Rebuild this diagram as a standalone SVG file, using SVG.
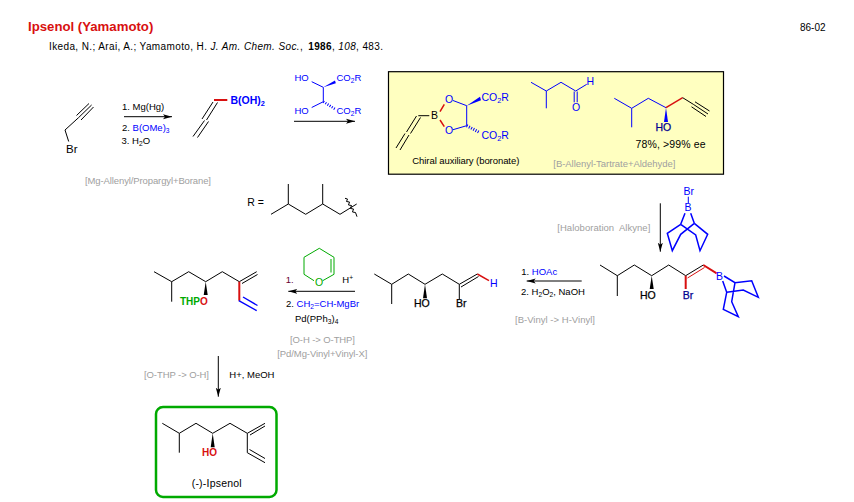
<svg xmlns="http://www.w3.org/2000/svg" width="854" height="502" viewBox="0 0 854 502">
<style>
text{font-family:"Liberation Sans",Arial,sans-serif;font-size:9.5px;fill:#000}
.g{fill:#a0a0a0}.u{fill:#0000ff}.r{fill:#d81010}.v{fill:#00aa00}
.l{font-size:11.5px}.b{font-weight:bold}.i{font-style:italic}
.m{font-size:10.5px;stroke:#000;stroke-width:.25}
.s{font-size:70%}
path{fill:none;stroke:#000;stroke-width:1}
.pu{stroke:#0000ff}.pr{stroke:#d81010;stroke-width:2}.pg{stroke:#00aa00}.pb{stroke:#0000ff;stroke-width:1.5}
.w{fill:#000;stroke:none}.wu{fill:#0000ff;stroke:none}
.a{stroke:#000;stroke-width:1;marker-end:url(#ah)}
</style>
<defs>
<marker id="ah" markerUnits="userSpaceOnUse" markerWidth="10" markerHeight="6" refX="9" refY="3" orient="auto"><path d="M0 .5L9 3L0 5.5L2 3Z" style="fill:#000;stroke:none"/></marker>
</defs>
<rect width="854" height="502" fill="#fff"/>

<g id="title">
<text x="28" y="31" class="r b" style="font-size:13.2px">Ipsenol (Yamamoto)</text>
<text x="800" y="31" style="font-size:10px">86-02</text>
<text x="49" y="49.5" style="font-size:10px" textLength="334">Ikeda, N.; Arai, A.; Yamamoto, H. <tspan class="i">J. Am. Chem. Soc.</tspan>, <tspan class="b" dx="2">1986</tspan>, <tspan class="i">108</tspan>, 483.</text>
</g>

<g id="connectors">
<path class="a" d="M124 116.7H172"/>
<path class="a" d="M294 121.3H355"/>
<path class="a" d="M537.3 117.3H584"/>
<path class="a" d="M660.3 203.3V251.7"/>
<path class="a" d="M581.7 281H526.7"/>
<path class="a" d="M355 291.3H288.3"/>
<path class="a" d="M218.3 356V396.7"/>
</g>

<g id="propargyl-bromide">
<path d="M68.7 141.500L65 130L78.600 117.600M78.600 117.600L91.600 105M76.500 115.500L89 103.500M81 120L93.500 107"/>
<text x="66" y="152.700" class="l">Br</text>
</g>
<g id="step1-reagents">
<text x="122" y="110">1. Mg(Hg)</text>
<text x="122" y="131">2. <tspan class="u">B(OMe)<tspan class="s" dy="2">3</tspan></tspan></text>
<text x="121.500" y="144">3. H<tspan class="s" dy="2">2</tspan><tspan dy="-2">O</tspan></text>
<text x="85" y="184" class="g" textLength="126">[Mg-Allenyl/Propargyl+Borane]</text>
</g>
<g id="allenyl-boronic-acid">
<path class="pr" d="M214 100H227.300"/>
<path d="M213 102L202 119M217.500 102.500L206.500 120M204.500 120.500L193 136.500M208.500 121.500L197.500 137.500"/>
<text x="230.500" y="104" class="u b" style="font-size:10.500px">B(OH)<tspan class="s" dy="2">2</tspan></text>
</g>
<g id="tartrate">
<path class="pu" d="M311.700 81.700L323.300 87.300V101.700L311.700 107.500"/>
<path class="wu" d="M323.300 87.300L335 80.500L335.800 83.200Z"/>
<path class="pu" stroke-dasharray="1 1.500" style="stroke-width:2.500" d="M323.300 101.700L335 109"/>
<text x="294.500" y="80.500" class="u">HO</text>
<text x="294.500" y="113.500" class="u">HO</text>
<text x="336.500" y="81" class="u">CO<tspan class="s" dy="2">2</tspan><tspan dy="-2">R</tspan></text>
<text x="336.500" y="113.500" class="u">CO<tspan class="s" dy="2">2</tspan><tspan dy="-2">R</tspan></text>
</g>
<g id="r-group">
<text x="247.300" y="205.700" style="font-size:10.500px">R =</text>
<path d="M271 214.300L288.300 204V184M288.300 204L305.700 214.300L322.700 204V184M322.700 204L340 214.300L356.700 204"/>
<path d="M345 198.300L347.500 199L346.500 201.500L349.500 202L348.500 205L351.500 205.500L350.500 208.500L353.500 209L352.500 212L355.500 212.500L357 216.700"/>
</g>

<g id="yellow-box">
<rect x="388.500" y="71.700" width="335" height="102.500" fill="#ffffc0" stroke="#000" stroke-width="1.200"/>
<path d="M418.300 115.700H429.300M416.500 116L406.500 132M420.500 117.500L410.500 133.500M405 133.500L396 148M409 135L400 150"/>
<text x="431" y="119" style="font-size:10.500px">B</text>
<path class="pr" style="stroke-width:1.500" d="M440 111.700L444.300 104.300M440 120L444.300 126.700"/>
<text x="445" y="102.700" class="u" style="font-size:10.500px">O</text>
<text x="445" y="134.300" class="u" style="font-size:10.500px">O</text>
<path class="pu" d="M453 100.500L466.700 105.700V125.700L453 129.700"/>
<path class="wu" d="M466.700 105.700L480 96.800L481 100.200Z"/>
<path class="pu" stroke-dasharray="1 1.500" style="stroke-width:3" d="M466.700 125.700L480 132.700"/>
<text x="481.500" y="100.700" class="u" style="font-size:10.500px">CO<tspan class="s" dy="2">2</tspan><tspan dy="-2">R</tspan></text>
<text x="481.500" y="139" class="u" style="font-size:10.500px">CO<tspan class="s" dy="2">2</tspan><tspan dy="-2">R</tspan></text>
<text x="412.300" y="164.300" textLength="107">Chiral auxiliary (boronate)</text>
<path class="pu" d="M531 82.300L546.300 91V108.300M546.300 91L561 82.300L575.700 91L586.700 84.300M574.200 91.500V102.300M577.200 91.500V102.300"/>
<text x="572" y="111" class="u" style="font-size:10.500px">O</text>
<text x="586.500" y="85" class="u" style="font-size:10.500px">H</text>
<path class="pu" d="M614.300 98.300L631.700 108.300V127.300M631.700 108.300L648.300 98.300L666 107.700"/>
<path class="wu" d="M666 107.700L668 122H664Z"/>
<path class="pr" style="stroke-width:1.500" d="M666 107.700L682.700 97.700"/>
<path d="M682.700 97.700L693.300 104.300M693.300 104.300L708 114M695 101.800L709.500 111M691.500 106.800L706 116.500"/>
<text x="655.500" y="131" class="m" style="fill:#000090;stroke:#000090">HO</text>
<text x="635.500" y="148.300" style="font-size:10.500px" textLength="70">78%, &gt;99% ee</text>
<text x="553.300" y="166.700" class="g" textLength="122">[B-Allenyl-Tartrate+Aldehyde]</text>
</g>

<g id="haloboration-reagent">
<text x="557.300" y="231" class="g" textLength="93" xml:space="preserve">[Haloboration  Alkyne]</text>
<text x="683.500" y="195" class="u" style="font-size:10.500px">Br</text>
<text x="684.500" y="211" class="u" style="font-size:10.500px">B</text>
<path class="pu" d="M688.300 196.700V203.300"/>
<path class="pb" d="M685 213.300L680.700 224.300M690.700 213.300L694.300 223.300M680.700 224.300L667.300 233.300L672.300 250.700L680.700 234.300L694.300 223.300M680.700 224.300L695.700 235L700 250.700L707.700 234.300L694.300 223.300"/>
</g>

<g id="vinyl-borane">
<path d="M600 265L617.300 275.700V296M617.300 275.700L634.300 265L651.700 275.700L668.700 265L685.700 275.700L703.300 265"/>
<path class="w" d="M651.700 275.700L653.700 289H649.700Z"/>
<path class="pr" style="stroke-width:1" d="M687.500 278L704.500 267.500"/>
<path class="pr" d="M685.700 275.700V289M703.300 265L716.700 273.300"/>
<text x="640" y="299" class="m">HO</text>
<text x="682.700" y="299" class="m" style="fill:#000090;stroke:#000090">Br</text>
<text x="716" y="279.500" class="u" style="font-size:10.500px">B</text>
<path class="pb" d="M722.700 281L726.700 292.300L723.300 309.300L738.300 316.700L731.700 301.700L735 282.700M724 276L735 282.700L751.700 280.700L758.300 297.300L743.300 290L726.700 292.300"/>
</g>
<g id="step3-reagents">
<text x="521.300" y="275">1. <tspan class="u">HOAc</tspan></text>
<text x="521" y="295">2. H<tspan class="s" dy="2">2</tspan><tspan dy="-2">O</tspan><tspan class="s" dy="2">2</tspan><tspan dy="-2">, NaOH</tspan></text>
<text x="515" y="322.700" class="g" textLength="80">[B-Vinyl -&gt; H-Vinyl]</text>
</g>

<g id="vinyl-bromide">
<path d="M374.300 274L391.700 284.300V304M391.700 284.300L408.300 274L425 284.300L442.300 274L459.300 284.300L477.300 274M459.300 284.300V299M461 287L478.500 276.500"/>
<path class="w" d="M425 284.300L427 298.300H423Z"/>
<path class="pr" style="stroke-width:1.500" d="M477.300 274L489 280.700"/>
<text x="414" y="306.700" class="m">HO</text>
<text x="456" y="306.700" class="m">Br</text>
<text x="490" y="286.700" class="u" style="font-size:10.500px">H</text>
</g>

<g id="step4-reagents">
<path class="pg" d="M319.300 248.300L334 257.300V274.300L322.700 280.700M314 280.700L304 274.300V257.300L319.300 248.300M331 259V272.500"/>
<text x="315" y="286" class="v" style="font-size:10.500px">O</text>
<text x="285.700" y="283.300" style="fill:#660033">1.</text>
<text x="342.300" y="283.300">H<tspan class="s" dy="-3">+</tspan></text>
<text x="286" y="306.700">2. <tspan class="u">CH<tspan class="s" dy="2">2</tspan><tspan dy="-2">=CH-MgBr</tspan></tspan></text>
<text x="295" y="322">Pd(PPh<tspan class="s" dy="2">3</tspan><tspan dy="-2">)</tspan><tspan class="s" dy="2">4</tspan></text>
<text x="290" y="343.300" class="g" textLength="65">[O-H -&gt; O-THP]</text>
<text x="277.300" y="356.700" class="g" textLength="90">[Pd/Mg-Vinyl+Vinyl-X]</text>
</g>

<g id="thp-ether">
<path d="M154 271.700L171.700 281.700V301.700M171.700 281.700L188.700 271.700L205.700 281.700L222.300 271.700L239.300 281.700L256.700 271.700M242 283.500L257.500 274.500"/>
<path class="w" d="M205.700 281.700L207.700 295H203.700Z"/>
<path class="pr" d="M239.300 281.700V300.700"/>
<path class="pu" d="M238.800 300.700L256.700 310.700M243 297L257.500 305.500" style="stroke-width:1.400"/>
<text x="180" y="305" class="b" style="font-size:10px"><tspan class="v">THP</tspan><tspan class="r">O</tspan></text>
</g>

<g id="step5-reagents">
<text x="144" y="377.700" class="g" textLength="65">[O-THP -&gt; O-H]</text>
<text x="229.300" y="377.700">H+, MeOH</text>
</g>

<g id="ipsenol">
<rect x="156" y="407" width="120.500" height="90" rx="7" fill="none" stroke="#00aa00" stroke-width="2.500"/>
<path d="M162.300 423.300L179.300 433.300V452.700M179.300 433.300L196 423.300L212.700 433.300L230 423.300L247.300 433.300L265 423.300M250 435L265 426M247.300 433.300V452.700L265 462.700M249.500 449.500L265 458.500"/>
<path class="w" d="M212.700 433.300L214.700 447.300H210.700Z"/>
<text x="202" y="455.700" class="r b" style="font-size:10px">HO</text>
<text x="191.700" y="486.700" style="font-size:10.500px" textLength="50">(-)-Ipsenol</text>
</g>
</svg>
